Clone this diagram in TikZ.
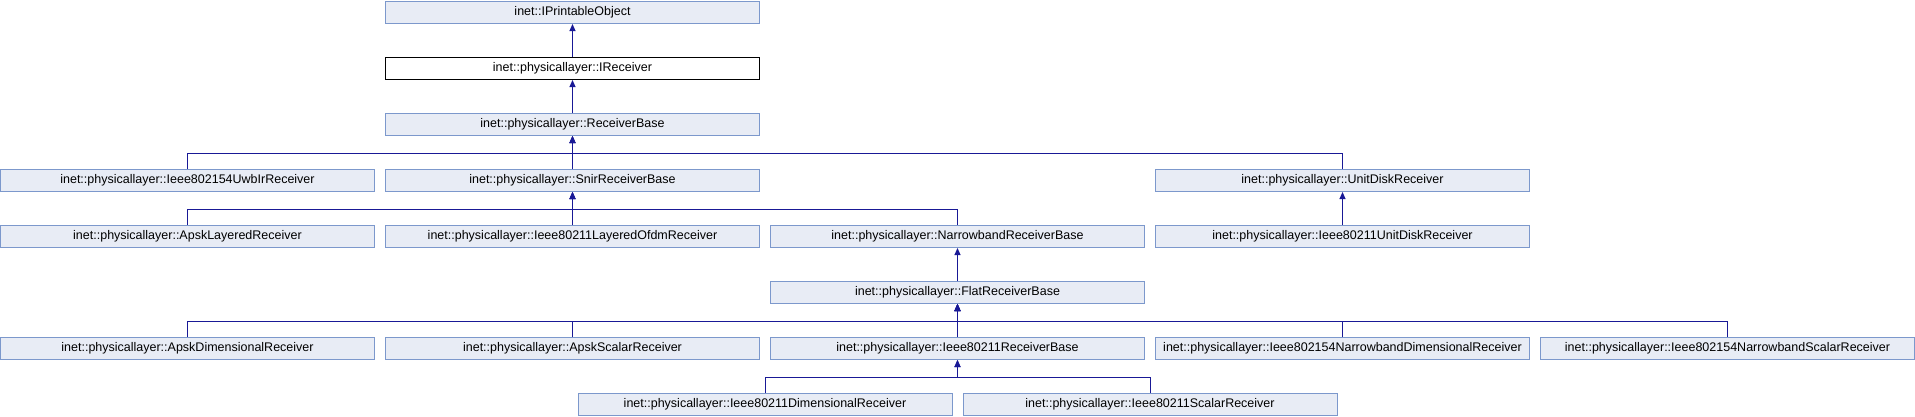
\documentclass[tikz,border=0pt]{standalone}
\usepackage{fontspec}
\setmainfont{Liberation Sans}
\usetikzlibrary{arrows.meta}
\definecolor{boxfill}{RGB}{232,236,245}
\definecolor{boxline}{RGB}{124,152,204}
\definecolor{edgecol}{RGB}{25,25,150}
\tikzset{
  cls/.style={draw=boxline, fill=boxfill, line width=1pt, minimum width=374pt, minimum height=22pt, inner sep=0pt, font=\fontsize{12.5}{14}\selectfont, anchor=north},
  cur/.style={cls, draw=black, fill=white},
  edge/.style={draw=edgecol, line width=1pt, -{Triangle[length=7pt,width=6pt]}},
}
\begin{document}
\begin{tikzpicture}[x=1pt,y=-1pt]
\useasboundingbox (0,0) rectangle (1915,416);
% column centers
\def\ca{187.5}\def\cb{572.5}\def\cc{957.5}\def\cd{1342.5}\def\ce{1727.5}
\node[cls] (ipo) at (\cb,1) {inet::IPrintableObject};
\node[cur] (irc) at (\cb,57) {inet::physicallayer::IReceiver};
\node[cls] (rb) at (\cb,113) {inet::physicallayer::ReceiverBase};
\node[cls] (uwb) at (\ca,169) {inet::physicallayer::Ieee802154UwbIrReceiver};
\node[cls] (snir) at (\cb,169) {inet::physicallayer::SnirReceiverBase};
\node[cls] (udr) at (\cd,169) {inet::physicallayer::UnitDiskReceiver};
\node[cls] (apl) at (\ca,225) {inet::physicallayer::ApskLayeredReceiver};
\node[cls] (lofdm) at (\cb,225) {inet::physicallayer::Ieee80211LayeredOfdmReceiver};
\node[cls] (nrb) at (\cc,225) {inet::physicallayer::NarrowbandReceiverBase};
\node[cls] (iudr) at (\cd,225) {inet::physicallayer::Ieee80211UnitDiskReceiver};
\node[cls] (frb) at (\cc,281) {inet::physicallayer::FlatReceiverBase};
\node[cls] (apd) at (\ca,337) {inet::physicallayer::ApskDimensionalReceiver};
\node[cls] (aps) at (\cb,337) {inet::physicallayer::ApskScalarReceiver};
\node[cls] (irb) at (\cc,337) {inet::physicallayer::Ieee80211ReceiverBase};
\node[cls] (nbd) at (\cd,337) {inet::physicallayer::Ieee802154NarrowbandDimensionalReceiver};
\node[cls] (nbs) at (\ce,337) {inet::physicallayer::Ieee802154NarrowbandScalarReceiver};
\node[cls] (idr) at (765,393) {inet::physicallayer::Ieee80211DimensionalReceiver};
\node[cls] (isr) at (1150,393) {inet::physicallayer::Ieee80211ScalarReceiver};
% edges
\draw[edge] (irc.north) -- (ipo.south);
\draw[edge] (rb.north) -- (irc.south);
\foreach \c in {uwb,snir,udr} \draw[edge] (\c.north) -- ++(0,-16) -| (rb.south);
\foreach \c in {apl,lofdm,nrb} \draw[edge] (\c.north) -- ++(0,-16) -| (snir.south);
\draw[edge] (iudr.north) -- (udr.south);
\draw[edge] (frb.north) -- (nrb.south);
\foreach \c in {apd,aps,irb,nbd,nbs} \draw[edge] (\c.north) -- ++(0,-16) -| (frb.south);
\foreach \c in {idr,isr} \draw[edge] (\c.north) -- ++(0,-16) -| (irb.south);
\end{tikzpicture}
\end{document}
